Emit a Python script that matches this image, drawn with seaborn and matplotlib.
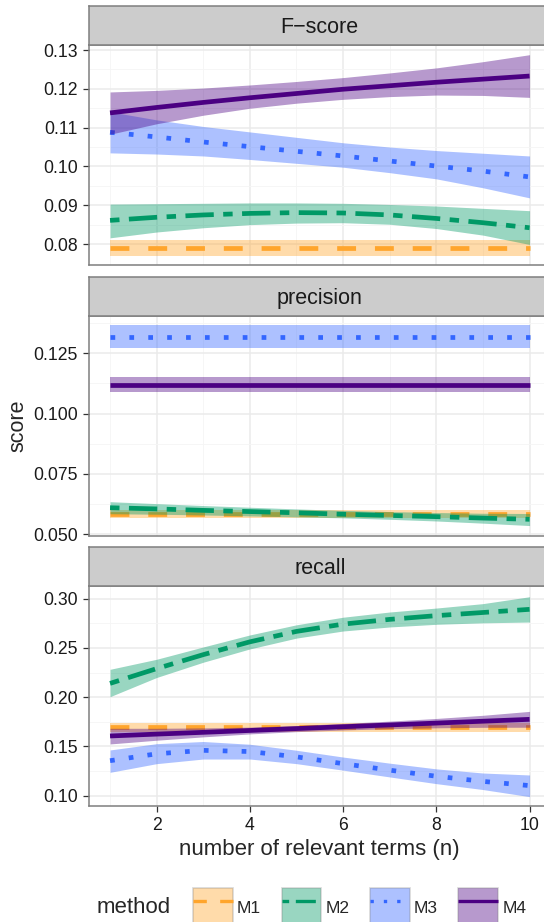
import numpy as np
import pandas as pd
import seaborn as sns
import matplotlib.pyplot as plt
import matplotlib.ticker as mticker
from matplotlib.patches import Patch
from matplotlib.lines import Line2D
from matplotlib.colors import to_rgba

n_terms = [1, 2, 3, 4, 5, 6, 7, 8, 9, 10]
methods = ['M1', 'M2', 'M3', 'M4']
panels = ['F\u2212score', 'precision', 'recall']

# smoothed fits + ribbon bounds
fscore_fit = {
    'M1': [0.0789, 0.0789, 0.0789, 0.0789, 0.0789, 0.0789, 0.0789, 0.0789, 0.0789, 0.0789],
    'M2': [0.0861, 0.0869, 0.0875, 0.0879, 0.0881, 0.0880, 0.0875, 0.0866, 0.0855, 0.0842],
    'M3': [0.1088, 0.1076, 0.1063, 0.1051, 0.1039, 0.1027, 0.1014, 0.1001, 0.0988, 0.0973],
    'M4': [0.1138, 0.1152, 0.1165, 0.1177, 0.1188, 0.1199, 0.1208, 0.1217, 0.1225, 0.1233],
}
fscore_lo = {
    'M1': [0.0769, 0.0769, 0.0769, 0.0769, 0.0769, 0.0769, 0.0769, 0.0769, 0.0769, 0.0769],
    'M2': [0.0816, 0.0831, 0.0842, 0.0850, 0.0854, 0.0855, 0.0851, 0.0840, 0.0823, 0.0799],
    'M3': [0.1035, 0.1032, 0.1027, 0.1018, 0.1008, 0.0998, 0.0984, 0.0968, 0.0945, 0.0919],
    'M4': [0.1083, 0.1110, 0.1132, 0.1150, 0.1163, 0.1173, 0.1180, 0.1184, 0.1183, 0.1178],
}
fscore_hi = {
    'M1': [0.0810, 0.0810, 0.0810, 0.0810, 0.0810, 0.0810, 0.0810, 0.0810, 0.0810, 0.0810],
    'M2': [0.0903, 0.0904, 0.0905, 0.0906, 0.0906, 0.0905, 0.0902, 0.0898, 0.0892, 0.0886],
    'M3': [0.1141, 0.1120, 0.1103, 0.1089, 0.1075, 0.1061, 0.1050, 0.1041, 0.1034, 0.1027],
    'M4': [0.1192, 0.1196, 0.1202, 0.1210, 0.1219, 0.1229, 0.1241, 0.1254, 0.1270, 0.1288],
}

precision_fit = {
    'M1': [0.0584, 0.0584, 0.0584, 0.0584, 0.0584, 0.0584, 0.0584, 0.0584, 0.0584, 0.0584],
    'M2': [0.0610, 0.0605, 0.0599, 0.0594, 0.0589, 0.0583, 0.0578, 0.0573, 0.0567, 0.0562],
    'M3': [0.1319, 0.1319, 0.1319, 0.1319, 0.1319, 0.1319, 0.1319, 0.1319, 0.1319, 0.1319],
    'M4': [0.1120, 0.1120, 0.1120, 0.1120, 0.1120, 0.1120, 0.1120, 0.1120, 0.1120, 0.1120],
}
precision_lo = {
    'M1': [0.0567, 0.0567, 0.0567, 0.0567, 0.0567, 0.0567, 0.0567, 0.0567, 0.0567, 0.0567],
    'M2': [0.0585, 0.0583, 0.0580, 0.0576, 0.0572, 0.0568, 0.0562, 0.0555, 0.0546, 0.0536],
    'M3': [0.1273, 0.1273, 0.1273, 0.1273, 0.1273, 0.1273, 0.1273, 0.1273, 0.1273, 0.1273],
    'M4': [0.1091, 0.1091, 0.1091, 0.1091, 0.1091, 0.1091, 0.1091, 0.1091, 0.1091, 0.1091],
}
precision_hi = {
    'M1': [0.0601, 0.0601, 0.0601, 0.0601, 0.0601, 0.0601, 0.0601, 0.0601, 0.0601, 0.0601],
    'M2': [0.0635, 0.0627, 0.0619, 0.0612, 0.0605, 0.0599, 0.0594, 0.0590, 0.0587, 0.0586],
    'M3': [0.1367, 0.1367, 0.1367, 0.1367, 0.1367, 0.1367, 0.1367, 0.1367, 0.1367, 0.1367],
    'M4': [0.1150, 0.1150, 0.1150, 0.1150, 0.1150, 0.1150, 0.1150, 0.1150, 0.1150, 0.1150],
}

recall_fit = {
    'M1': [0.1694, 0.1694, 0.1694, 0.1694, 0.1694, 0.1694, 0.1694, 0.1694, 0.1694, 0.1694],
    'M2': [0.2140, 0.2290, 0.2432, 0.2562, 0.2668, 0.2742, 0.2790, 0.2828, 0.2860, 0.2892],
    'M3': [0.1355, 0.1425, 0.1460, 0.1448, 0.1394, 0.1325, 0.1259, 0.1197, 0.1145, 0.1102],
    'M4': [0.1606, 0.1625, 0.1643, 0.1662, 0.1681, 0.1700, 0.1718, 0.1737, 0.1756, 0.1775],
}
recall_lo = {
    'M1': [0.1650, 0.1650, 0.1650, 0.1650, 0.1650, 0.1650, 0.1650, 0.1650, 0.1650, 0.1650],
    'M2': [0.2005, 0.2200, 0.2355, 0.2490, 0.2600, 0.2672, 0.2713, 0.2740, 0.2755, 0.2763],
    'M3': [0.1237, 0.1325, 0.1372, 0.1372, 0.1325, 0.1259, 0.1190, 0.1122, 0.1062, 0.0990],
    'M4': [0.1525, 0.1563, 0.1597, 0.1627, 0.1650, 0.1667, 0.1680, 0.1689, 0.1694, 0.1695],
}
recall_hi = {
    'M1': [0.1734, 0.1734, 0.1734, 0.1734, 0.1734, 0.1734, 0.1734, 0.1734, 0.1734, 0.1734],
    'M2': [0.2283, 0.2385, 0.2510, 0.2632, 0.2735, 0.2812, 0.2865, 0.2905, 0.2950, 0.3020],
    'M3': [0.1464, 0.1528, 0.1550, 0.1522, 0.1461, 0.1392, 0.1330, 0.1272, 0.1230, 0.1210],
    'M4': [0.1684, 0.1684, 0.1688, 0.1696, 0.1712, 0.1733, 0.1757, 0.1784, 0.1816, 0.1856],
}

colors = {'M1': '#FFA52C', 'M2': '#009966', 'M3': '#3366FF', 'M4': '#4B0082'}
dash_map = {'M1': (4, 4), 'M2': (2, 2, 6, 2), 'M3': (1, 3), 'M4': ''}

# long table
rows = []
for panel, fit, lo, hi in [(panels[0], fscore_fit, fscore_lo, fscore_hi),
                           (panels[1], precision_fit, precision_lo, precision_hi),
                           (panels[2], recall_fit, recall_lo, recall_hi)]:
    for m in methods:
        for i, n in enumerate(n_terms):
            rows.append((panel, m, n, fit[m][i], lo[m][i], hi[m][i]))
df = pd.DataFrame(rows, columns=['panel', 'method', 'n', 'score', 'lo', 'hi'])

sns.set_theme(style='white')
plt.rcParams['font.family'] = ['Liberation Sans', 'DejaVu Sans']
plt.rcParams['lines.solid_capstyle'] = 'butt'
plt.rcParams['lines.dash_capstyle'] = 'butt'

W, H = 544, 922
fig = plt.figure(figsize=(W / 100, H / 100), dpi=100)

x_left, x_right = 88.6, 551.0
# (strip top, panel top, panel bottom) in pixels
layout = [(6.5, 45.0, 265.0), (276.7, 315.7, 535.7), (547.3, 586.0, 806.0)]
ylims = [(0.0746, 0.1313), (0.0494, 0.1406), (0.0895, 0.3129)]
yticks = [[0.08, 0.09, 0.10, 0.11, 0.12, 0.13],
          [0.050, 0.075, 0.100, 0.125],
          [0.10, 0.15, 0.20, 0.25, 0.30]]
yfmt = ['%.2f', '%.3f', '%.2f']
border = '#7F7F7F'

for k, panel in enumerate(panels):
    s_top, p_top, p_bot = layout[k]
    ax = fig.add_axes([x_left / W, 1 - p_bot / H, (x_right - x_left) / W, (p_bot - p_top) / H])
    sax = fig.add_axes([x_left / W, 1 - p_top / H, (x_right - x_left) / W, (p_top - s_top) / H])

    sub = df[df['panel'] == panel]
    for i, m in enumerate(methods):
        d = sub[sub['method'] == m]
        ax.fill_between(d['n'], d['lo'], d['hi'], color=colors[m], alpha=0.4,
                        linewidth=0, zorder=2 + 2 * i)
        sns.lineplot(data=d, x='n', y='score', hue='method', style='method',
                     palette=colors, dashes=dash_map, linewidth=3.4,
                     legend=False, errorbar=None, ax=ax, zorder=3 + 2 * i)

    ax.set_xticks([2, 4, 6, 8, 10])
    ax.set_xticks([1, 3, 5, 7, 9], minor=True)
    ax.set_yticks(yticks[k])
    step = yticks[k][1] - yticks[k][0]
    ax.set_yticks([t + step / 2 for t in yticks[k]], minor=True)
    # limits after ticks, otherwise set_yticks widens the view
    ax.set_xlim(0.54, 10.46)
    ax.set_ylim(*ylims[k])
    ax.yaxis.set_major_formatter(mticker.FormatStrFormatter(yfmt[k]))
    ax.grid(True, which='major', color='#EBEBEB', linewidth=1.1, zorder=0)
    ax.grid(True, which='minor', color='#F5F5F5', linewidth=0.6, zorder=0)
    ax.set_axisbelow(True)
    ax.set_xlabel('')
    ax.set_ylabel('')
    ax.tick_params(axis='y', which='major', left=True, length=4, width=0.9,
                   color='#333333', labelsize=12.7, labelcolor='#1A1A1A', pad=3.6)
    ax.tick_params(axis='both', which='minor', length=0)
    if k == 2:
        ax.tick_params(axis='x', which='major', bottom=True, length=4, width=0.9,
                       color='#333333', labelsize=12.7, labelcolor='#1A1A1A', pad=3.6)
    else:
        ax.tick_params(axis='x', which='major', bottom=False, labelbottom=False)
    for sp in ax.spines.values():
        sp.set_color(border)
        sp.set_linewidth(1.1)
        sp.set_zorder(20)

    sax.set_facecolor('#CCCCCC')
    sax.set_xticks([])
    sax.set_yticks([])
    for sp in sax.spines.values():
        sp.set_color(border)
        sp.set_linewidth(1.1)
    sax.text(0.5, 0.30, panel, transform=sax.transAxes, ha='center', va='baseline',
             fontsize=15.5, color='#1A1A1A')

fig.text(18 / W, 1 - 426 / H, 'score', rotation=90, ha='center', va='center', fontsize=15.5)
fig.text(319 / W, 1 - 849 / H, 'number of relevant terms (n)', ha='center', va='center',
         fontsize=16)

# legend
fig.text(97 / W, 1 - 907 / H, 'method', ha='left', va='center', fontsize=16)
handles = []
for m in methods:
    box = Patch(facecolor=to_rgba(colors[m], 0.4), edgecolor=to_rgba('#7F7F7F', 0.3),
                linewidth=1.2)
    ln = Line2D([0], [0], color=colors[m], linewidth=2.4,
                linestyle='-' if dash_map[m] == '' else (0, dash_map[m]))
    handles.append((box, ln))
fig.legend(handles, methods, ncol=4, loc='upper left',
           bbox_to_anchor=(193 / W, 1 - 888 / H), frameon=False, fontsize=12.5,
           handlelength=2.3, handleheight=3.17, handletextpad=0.23,
           columnspacing=1.18, borderpad=0, borderaxespad=0)

fig.savefig('out.png', dpi=100)
